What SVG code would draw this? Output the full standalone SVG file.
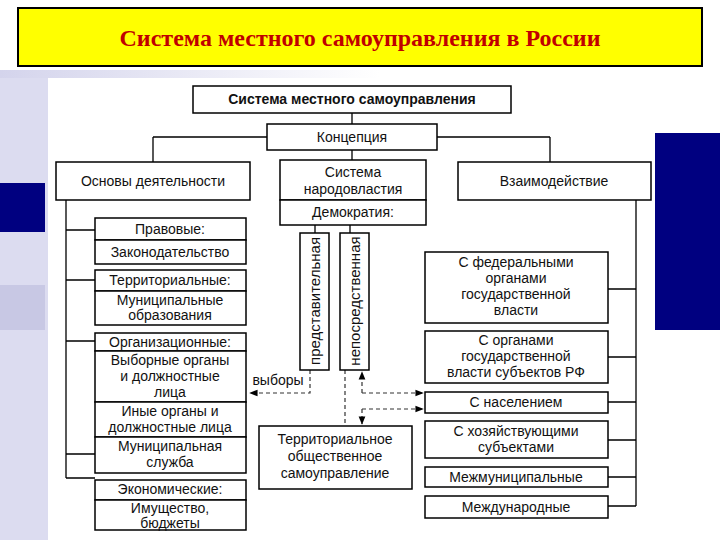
<svg xmlns="http://www.w3.org/2000/svg" width="720" height="540" viewBox="0 0 720 540">
<defs>
<marker id="ah" viewBox="0 0 10 10" refX="9" refY="5" markerWidth="7" markerHeight="7" orient="auto-start-reverse"><path d="M0,1 L10,5 L0,9 z" fill="#000"/></marker>
<linearGradient id="lg" x1="0" y1="0" x2="1" y2="0"><stop offset="0" stop-color="#ffffff"/><stop offset="1" stop-color="#d4d4ec"/></linearGradient>
</defs>
<style>
.b{fill:#fff;stroke:#000;stroke-width:1.5}
.t{font-family:"Liberation Sans",Arial,sans-serif;font-size:14px;fill:#111;text-anchor:middle}
.v{font-size:15px}
.l{stroke:#000;stroke-width:1.3;fill:none}
.d{stroke:#333;stroke-width:1.2;fill:none;stroke-dasharray:4,3}
</style>
<rect width="720" height="540" fill="#fff"/>
<rect x="0" y="70" width="48" height="470" fill="#dcdcf0"/>
<rect x="0" y="70" width="380" height="8" fill="url(#lg)" transform="rotate(180 190 74)"/>
<rect x="0" y="183" width="45" height="49" fill="#000080"/>
<rect x="0" y="285" width="45" height="45" fill="#c8c8e4"/>
<rect x="655" y="133" width="65" height="197" fill="#000080"/>
<g id="title">
<rect x="18" y="8" width="684" height="58" fill="#ffff00" stroke="#000" stroke-width="2"/>
<text x="360" y="46" font-family="'Liberation Serif','Times New Roman',serif" font-size="24" font-weight="bold" fill="#c00000" text-anchor="middle">Система местного самоуправления в России</text>
</g>
<g id="connectors">
<path class="l" d="M352,113V124M352,150V160M153,137H550M153,137V162M550,137V162"/>
<path class="l" d="M66,200V478M66,230H95M66,280H95M66,341H95M66,454H95M66,478H95"/>
<path class="l" d="M315,225V233M350,225V233"/>
<path class="l" d="M636,200V506M608,289H636M608,357H636M608,402H636M608,440H636M608,477H636M608,506H636"/>
<path class="d" d="M310,370V393H250" marker-end="url(#ah)"/>
<path class="d" d="M345,370V424"/>
<path class="d" d="M362,393V372" marker-end="url(#ah)"/>
<path class="d" d="M362,393H423" marker-end="url(#ah)"/>
<path class="d" d="M362,409H423" marker-end="url(#ah)"/>
<path class="d" d="M362,409V424" marker-end="url(#ah)"/>
</g>
<g id="n-top"><rect class="b" x="193" y="86" width="318" height="27"/><text class="t" x="352" y="104" font-weight="bold">Система местного самоуправления</text></g>
<g id="n-konc"><rect class="b" x="267" y="124" width="170" height="26"/><text class="t" x="352" y="142">Концепция</text></g>
<g id="n-osn"><rect class="b" x="56" y="162" width="194" height="38"/><text class="t" x="153" y="186">Основы деятельности</text></g>
<g id="n-sys"><rect class="b" x="280" y="160" width="146" height="40"/><text class="t" x="353" y="177">Система</text><text class="t" x="353" y="194">народовластия</text></g>
<g id="n-dem"><rect class="b" x="280" y="200" width="146" height="25"/><text class="t" x="353" y="217">Демократия:</text></g>
<g id="n-vz"><rect class="b" x="458" y="162" width="193" height="38"/><text class="t" x="554" y="186">Взаимодействие</text></g>
<g id="n-pr"><rect class="b" x="95" y="218" width="151" height="22"/><text class="t" x="170" y="234">Правовые:</text></g>
<g id="n-zak"><rect class="b" x="95" y="240" width="151" height="24"/><text class="t" x="170" y="257">Законодательство</text></g>
<g id="n-ter"><rect class="b" x="95" y="270" width="151" height="21"/><text class="t" x="170" y="285">Территориальные:</text></g>
<g id="n-mo"><rect class="b" x="95" y="291" width="151" height="34"/><text class="t" x="170" y="305">Муниципальные</text><text class="t" x="170" y="320">образования</text></g>
<g id="n-org"><rect class="b" x="95" y="333" width="151" height="18"/><text class="t" x="170" y="347">Организационные:</text></g>
<g id="n-vyb"><rect class="b" x="95" y="351" width="151" height="51"/><text class="t" x="170" y="365">Выборные органы</text><text class="t" x="170" y="381">и должностные</text><text class="t" x="170" y="397">лица</text></g>
<g id="n-in"><rect class="b" x="95" y="402" width="151" height="35"/><text class="t" x="170" y="416">Иные органы и</text><text class="t" x="170" y="432">должностные лица</text></g>
<g id="n-ms"><rect class="b" x="95" y="437" width="151" height="36"/><text class="t" x="170" y="451">Муниципальная</text><text class="t" x="170" y="467">служба</text></g>
<g id="n-ek"><rect class="b" x="95" y="480" width="151" height="20"/><text class="t" x="170" y="494">Экономические:</text></g>
<g id="n-im"><rect class="b" x="95" y="500" width="151" height="30"/><text class="t" x="170" y="513">Имущество,</text><text class="t" x="170" y="528">бюджеты</text></g>
<g id="n-pred"><rect class="b" x="300" y="233" width="29" height="137"/><text class="t v" transform="translate(320,301) rotate(-90)">представительная</text></g>
<g id="n-nep"><rect class="b" x="340" y="233" width="29" height="137"/><text class="t v" transform="translate(360,301) rotate(-90)">непосредственная</text></g>
<g id="n-vybory"><text class="t" x="278" y="385">выборы</text></g>
<g id="n-tos"><rect class="b" x="259" y="426" width="153" height="63"/><text class="t" x="335" y="444">Территориальное</text><text class="t" x="335" y="461">общественное</text><text class="t" x="335" y="478">самоуправление</text></g>
<g id="n-fed"><rect class="b" x="425" y="252" width="183" height="71"/><text class="t" x="516" y="267">С федеральными</text><text class="t" x="516" y="283">органами</text><text class="t" x="516" y="299">государственной</text><text class="t" x="516" y="315">власти</text></g>
<g id="n-sub"><rect class="b" x="425" y="331" width="183" height="52"/><text class="t" x="516" y="345">С органами</text><text class="t" x="516" y="361">государственной</text><text class="t" x="516" y="377">власти субъектов РФ</text></g>
<g id="n-nas"><rect class="b" x="425" y="392" width="183" height="21"/><text class="t" x="516" y="407">С населением</text></g>
<g id="n-hoz"><rect class="b" x="425" y="421" width="183" height="37"/><text class="t" x="516" y="436">С хозяйствующими</text><text class="t" x="516" y="452">субъектами</text></g>
<g id="n-mm"><rect class="b" x="425" y="467" width="183" height="20"/><text class="t" x="516" y="482">Межмуниципальные</text></g>
<g id="n-md"><rect class="b" x="425" y="496" width="183" height="22"/><text class="t" x="516" y="512">Международные</text></g>
</svg>
